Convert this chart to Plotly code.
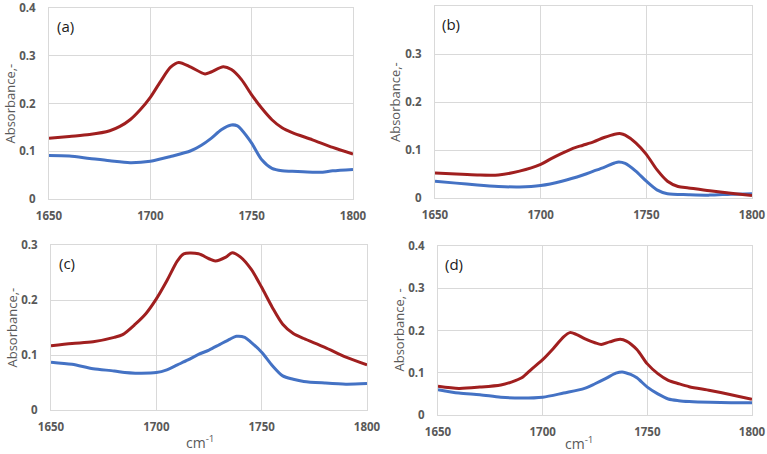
import plotly.graph_objects as go

# ---------------- data ----------------
x_a = [1650, 1660, 1670, 1680, 1685, 1690, 1695, 1700, 1705, 1710, 1714, 1720, 1727, 1730, 1736, 1740, 1745, 1750, 1755, 1760, 1765, 1770, 1780, 1790, 1800]
red_a = [0.127, 0.131, 0.135, 0.143, 0.152, 0.166, 0.187, 0.213, 0.246, 0.276, 0.286, 0.276, 0.262, 0.266, 0.277, 0.271, 0.250, 0.218, 0.190, 0.166, 0.149, 0.139, 0.124, 0.108, 0.094]
xb_a = [1650, 1660, 1670, 1680, 1690, 1700, 1710, 1720, 1725, 1730, 1735, 1740, 1743, 1745, 1750, 1755, 1760, 1765, 1770, 1780, 1785, 1790, 1800]
blue_a = [0.091, 0.090, 0.085, 0.080, 0.076, 0.079, 0.089, 0.101, 0.112, 0.127, 0.145, 0.155, 0.153, 0.145, 0.117, 0.082, 0.064, 0.059, 0.058, 0.056, 0.056, 0.059, 0.062]

x_b = [1650, 1660, 1670, 1680, 1690, 1700, 1705, 1710, 1715, 1720, 1725, 1730, 1735, 1738, 1740, 1745, 1750, 1755, 1760, 1765, 1770, 1780, 1790, 1800]
red_b = [0.052, 0.050, 0.048, 0.048, 0.056, 0.070, 0.082, 0.093, 0.103, 0.110, 0.117, 0.126, 0.133, 0.134, 0.131, 0.115, 0.091, 0.059, 0.035, 0.024, 0.021, 0.015, 0.010, 0.005]
xb_b = [1650, 1660, 1670, 1680, 1690, 1700, 1710, 1720, 1725, 1730, 1735, 1737, 1740, 1745, 1750, 1755, 1760, 1770, 1780, 1790, 1800]
blue_b = [0.035, 0.031, 0.027, 0.024, 0.023, 0.026, 0.035, 0.048, 0.056, 0.064, 0.073, 0.075, 0.072, 0.056, 0.035, 0.017, 0.009, 0.007, 0.006, 0.008, 0.009]

x_c = [1650, 1660, 1670, 1680, 1684, 1690, 1695, 1700, 1705, 1710, 1713, 1720, 1725, 1728, 1733, 1736, 1740, 1745, 1750, 1755, 1760, 1765, 1770, 1780, 1790, 1800]
red_c = [0.117, 0.121, 0.124, 0.132, 0.137, 0.156, 0.175, 0.202, 0.235, 0.271, 0.284, 0.284, 0.275, 0.271, 0.278, 0.286, 0.278, 0.256, 0.223, 0.187, 0.156, 0.139, 0.130, 0.114, 0.096, 0.082]
xb_c = [1650, 1660, 1670, 1680, 1685, 1690, 1700, 1705, 1710, 1715, 1720, 1725, 1730, 1735, 1738, 1742, 1745, 1750, 1755, 1760, 1765, 1770, 1780, 1790, 1800]
blue_c = [0.087, 0.083, 0.075, 0.071, 0.068, 0.067, 0.068, 0.073, 0.082, 0.091, 0.101, 0.109, 0.119, 0.129, 0.134, 0.132, 0.123, 0.105, 0.081, 0.062, 0.056, 0.052, 0.049, 0.047, 0.048]

x_d = [1650, 1660, 1670, 1680, 1685, 1690, 1695, 1700, 1705, 1710, 1713, 1716, 1720, 1725, 1728, 1732, 1737, 1740, 1745, 1750, 1755, 1760, 1765, 1770, 1780, 1790, 1800]
red_d = [0.068, 0.063, 0.066, 0.071, 0.078, 0.088, 0.110, 0.131, 0.157, 0.185, 0.195, 0.191, 0.181, 0.171, 0.167, 0.173, 0.179, 0.175, 0.155, 0.121, 0.098, 0.082, 0.074, 0.067, 0.058, 0.048, 0.037]
xb_d = [1650, 1660, 1670, 1680, 1690, 1700, 1710, 1720, 1725, 1730, 1735, 1738, 1742, 1745, 1750, 1755, 1760, 1765, 1770, 1780, 1790, 1800]
blue_d = [0.060, 0.052, 0.048, 0.042, 0.040, 0.042, 0.052, 0.063, 0.074, 0.086, 0.099, 0.102, 0.096, 0.088, 0.066, 0.050, 0.038, 0.034, 0.032, 0.030, 0.029, 0.029]

x_ticks = [1650, 1700, 1750, 1800]
panel_labels = ["(a)", "(b)", "(c)", "(d)"]
y_titles = ["Absorbance,-", "Absorbance,-", "Absorbance,-", "Absorbance, -"]
x_title = "cm<sup>-1</sup>"
y_max = [0.4, 0.4, 0.3, 0.4]

# ---------------- layout geometry (pixels) ----------------
W, H = 767, 454
boxes = [  # left, right, top, bottom in px
    (49, 353, 8, 199),
    (435, 752, 6, 198),
    (51, 367, 245, 410),
    (438, 752, 246, 415),
]

RED = "#A01F1F"
BLUE = "#4472C4"
GRID = "#D9D9D9"
TXT = "#595959"
FONT = "Open Sans"
TICKFONT = dict(family=FONT, size=11.5, color=TXT, weight="bold")

fig = go.Figure()
series = [(x_a, red_a, xb_a, blue_a), (x_b, red_b, xb_b, blue_b),
          (x_c, red_c, xb_c, blue_c), (x_d, red_d, xb_d, blue_d)]

layout = dict(width=W, height=H, margin=dict(l=0, r=0, t=0, b=0, autoexpand=False),
              paper_bgcolor="white", plot_bgcolor="white", showlegend=False,
              font=dict(family=FONT, color=TXT))
annotations = []

for i, ((xr, yr, xbl, ybl), (l, r, t, b)) in enumerate(zip(series, boxes)):
    n = i + 1
    xa = "x" if n == 1 else f"x{n}"
    ya = "y" if n == 1 else f"y{n}"
    fig.add_trace(go.Scatter(x=xbl, y=ybl, mode="lines", line=dict(color=BLUE, width=3, shape="spline", smoothing=0.8),
                             xaxis=xa, yaxis=ya))
    fig.add_trace(go.Scatter(x=xr, y=yr, mode="lines", line=dict(color=RED, width=3, shape="spline", smoothing=0.8),
                             xaxis=xa, yaxis=ya))
    xdom = [l / W, r / W]
    ydom = [1 - b / H, 1 - t / H]
    ym = y_max[i]
    yt = [round(k * 0.1, 1) for k in range(int(round(ym * 10)) + 1)]
    layout[f"xaxis{'' if n == 1 else n}"] = dict(
        domain=xdom, anchor=ya, range=[1650, 1800], tickvals=x_ticks, automargin=False,
        ticktext=[str(v) for v in x_ticks], showgrid=True, gridcolor=GRID, gridwidth=1,
        showline=True, linecolor=GRID, linewidth=1, mirror=True, zeroline=False,
        ticks="", ticklabelstandoff=6, tickfont=TICKFONT)
    layout[f"yaxis{'' if n == 1 else n}"] = dict(
        domain=ydom, anchor=xa, range=[0, ym], tickvals=yt, automargin=False,
        ticktext=["0" if v == 0 else f"{v:.1f}" for v in yt], showgrid=True, gridcolor=GRID,
        gridwidth=1, showline=True, linecolor=GRID, linewidth=1, mirror=True, zeroline=False,
        ticks="", ticklabelstandoff=10, tickfont=TICKFONT)
    # panel label
    annotations.append(dict(text=panel_labels[i], xref="paper", yref="paper",
                            x=(l + 16) / W, y=1 - (t + 18) / H, xanchor="center", yanchor="middle",
                            showarrow=False, font=dict(family=FONT, size=15, color="#1A1A1A")))
    # y title
    annotations.append(dict(text=y_titles[i], xref="paper", yref="paper",
                            x=(l - 40) / W, y=1 - ((t + b) / 2) / H, xanchor="center", yanchor="middle",
                            textangle=-90, showarrow=False, font=dict(family=FONT, size=13, color=TXT)))

# x titles for bottom panels
annotations.append(dict(text=x_title, xref="paper", yref="paper", x=200 / W, y=1 - 442 / H,
                        xanchor="center", yanchor="middle", showarrow=False,
                        font=dict(family=FONT, size=14, color=TXT)))
annotations.append(dict(text=x_title, xref="paper", yref="paper", x=579 / W, y=1 - 443 / H,
                        xanchor="center", yanchor="middle", showarrow=False,
                        font=dict(family=FONT, size=14, color=TXT)))

layout["annotations"] = annotations
fig.update_layout(**layout)
fig.write_html("out.html", config={"displayModeBar": False},
               post_script="document.body.style.margin='0';document.body.style.overflow='hidden';")
